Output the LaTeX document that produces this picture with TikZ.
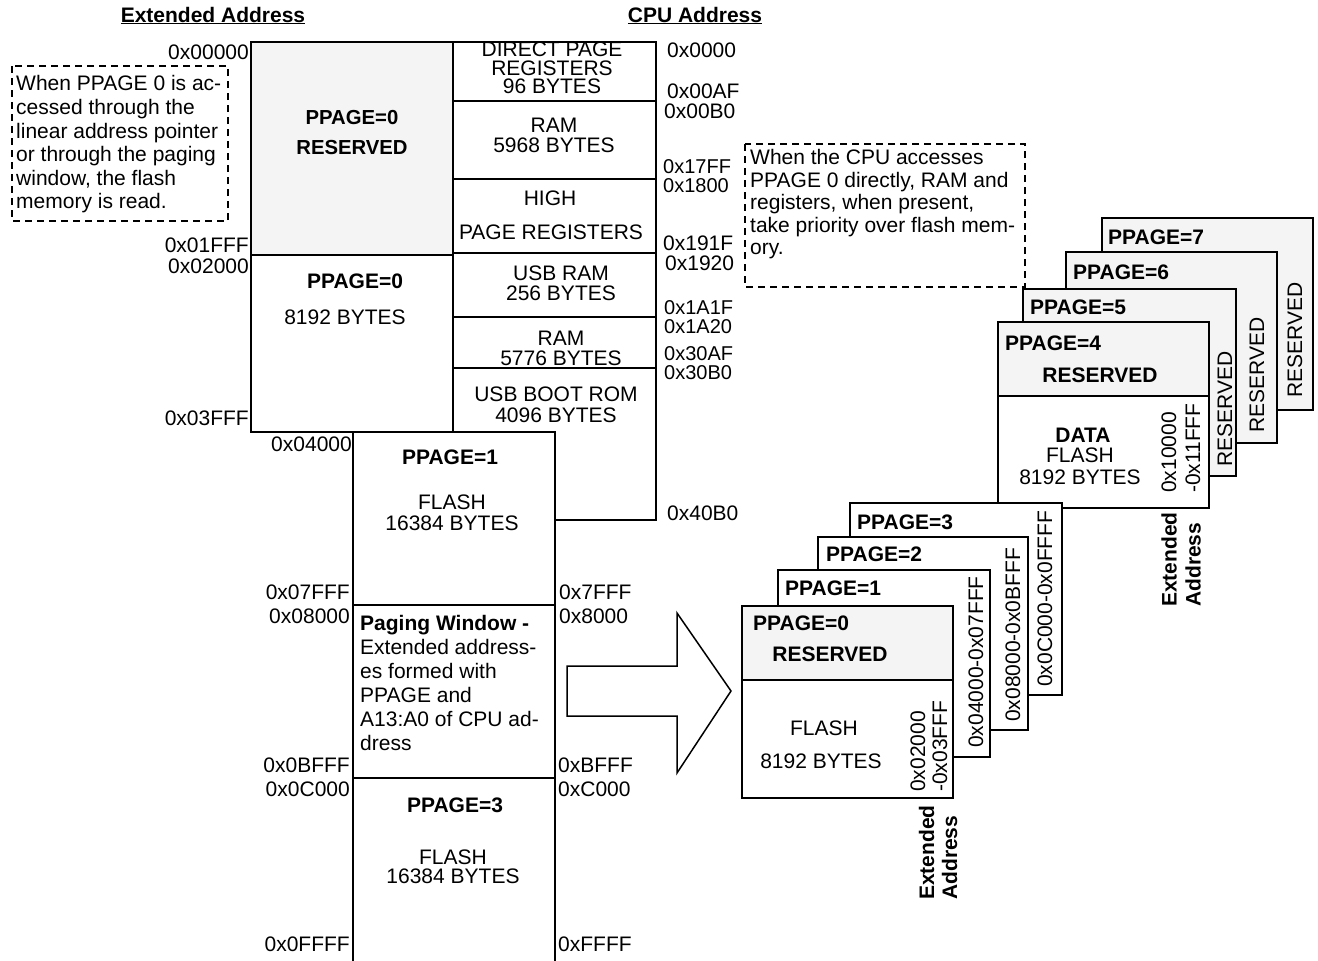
\documentclass[tikz,border=0pt]{standalone}
\usepackage{fontspec}
\setmainfont{Liberation Sans}
\definecolor{lgray}{RGB}{244,244,244}
\begin{document}
\begin{tikzpicture}[x=1pt,y=-1pt,
  blk/.style={draw, line width=2pt, line join=miter},
  txt/.style={inner sep=0pt, font=\fontsize{21}{24}\selectfont},
  ctxt/.style={inner sep=0pt, font=\fontsize{20}{24}\selectfont},
  btxt/.style={inner sep=0pt, font=\fontsize{21}{24}\selectfont\bfseries},
  sbtxt/.style={inner sep=0pt, font=\fontsize{20.3}{24}\selectfont\bfseries},
  note/.style={draw, dash pattern=on 7pt off 5pt, line width=1.3pt},
  arrowshape/.style={draw, line width=1.5pt, fill=white, line join=miter}]
\useasboundingbox (0,0) rectangle (1318,961);

% headers
\node[btxt, anchor=base] (hExt) at (213,22) {\underline{Extended Address}};
\node[btxt, anchor=base] (hCpu) at (695,22) {\underline{CPU Address}};

% left column
\draw[blk, fill=lgray] (251,42) rectangle (453,255);
\draw[blk, fill=white] (251,255) rectangle (453,432);
% CPU column
\draw[blk, fill=white] (453,42) rectangle (656,520);
\draw[blk] (453,101) -- (656,101);
\draw[blk] (453,179) -- (656,179);
\draw[blk] (453,253) -- (656,253);
\draw[blk] (453,317) -- (656,317);
\draw[blk] (453,368) -- (656,368);
% lower column
\draw[blk, fill=white] (353,432) rectangle (555,605);
\draw[blk, fill=white] (353,605) rectangle (555,778);
\draw[blk] (353,961) -- (353,778) -- (555,778) -- (555,961);

% texts in left column
\node[sbtxt] (p0a) at (352,117.5) {PPAGE=0};
\node[sbtxt] (p0b) at (352,147.5) {RESERVED};
\node[btxt] (p0c) at (355,281) {PPAGE=0};
\node[txt] (p0d) at (345,317) {8192 BYTES};
\node[btxt] (p1a) at (450,457) {PPAGE=1};
\node[txt, align=center, font=\fontsize{21}{21.5}\selectfont] (p1b) at (452,513) {FLASH\\16384 BYTES};
\node[txt, anchor=north west, align=left, font=\fontsize{21}{24}\selectfont] (pw) at (360,615.5)
  {\textbf{Paging Window -}\\Extended address-\\es formed with\\PPAGE and\\A13:A0 of CPU ad-\\dress};
\node[btxt] (p3a) at (455,805) {PPAGE=3};
\node[txt, align=center, font=\fontsize{21}{19}\selectfont] (p3b) at (453,867) {FLASH\\16384 BYTES};

% texts in CPU column
\node[txt, align=center, font=\fontsize{21}{18.5}\selectfont] (t1) at (552,68) {DIRECT PAGE\\REGISTERS\\96 BYTES};
\node[txt, align=center, font=\fontsize{21}{20}\selectfont] (t2) at (554,135) {RAM\\5968 BYTES};
\node[txt] (t3a) at (550,198) {HIGH};
\node[txt] (t3b) at (551,232) {PAGE REGISTERS};
\node[txt, align=center, font=\fontsize{21}{20}\selectfont] (t4) at (561,283) {USB RAM\\256 BYTES};
\node[txt, align=center, font=\fontsize{21}{20}\selectfont] (t5) at (561,348) {RAM\\5776 BYTES};
\node[txt, align=center, font=\fontsize{21}{21}\selectfont] (t6) at (556,405) {USB BOOT ROM\\4096 BYTES};

% extended address labels
\node[txt, anchor=east] (a00000) at (249,52) {0x00000};
\node[txt, anchor=east] (a01FFF) at (249,245) {0x01FFF};
\node[txt, anchor=east] (a02000) at (249,266) {0x02000};
\node[txt, anchor=east] (a03FFF) at (249,418) {0x03FFF};
\node[txt, anchor=east] (a04000) at (352,444) {0x04000};
\node[txt, anchor=east] (a07FFF) at (350,592) {0x07FFF};
\node[txt, anchor=east] (a08000) at (350,616) {0x08000};
\node[txt, anchor=east] (a0BFFF) at (350,765) {0x0BFFF};
\node[txt, anchor=east] (a0C000) at (350,789) {0x0C000};
\node[txt, anchor=east] (a0FFFF) at (350,944) {0x0FFFF};

% CPU address labels
\node[txt, anchor=west] (c0000) at (667,50) {0x0000};
\node[txt, anchor=west] (c00AF) at (667,91) {0x00AF};
\node[txt, anchor=west] (c00B0) at (664,111) {0x00B0};
\node[ctxt, anchor=west] (c17FF) at (663,167) {0x17FF};
\node[ctxt, anchor=west] (c1800) at (663,186) {0x1800};
\node[txt, anchor=west] (c191F) at (663,243) {0x191F};
\node[txt, anchor=west] (c1920) at (665,263) {0x1920};
\node[ctxt, anchor=west] (c1A1F) at (664,308) {0x1A1F};
\node[ctxt, anchor=west] (c1A20) at (664,327) {0x1A20};
\node[ctxt, anchor=west] (c30AF) at (664,354) {0x30AF};
\node[ctxt, anchor=west] (c30B0) at (664,373) {0x30B0};
\node[txt, anchor=west] (c40B0) at (667,513) {0x40B0};
\node[txt, anchor=west] (c7FFF) at (559,592) {0x7FFF};
\node[txt, anchor=west] (c8000) at (559,616) {0x8000};
\node[txt, anchor=west] (cBFFF) at (558,765) {0xBFFF};
\node[txt, anchor=west] (cC000) at (558,789) {0xC000};
\node[txt, anchor=west] (cFFFF) at (558,944) {0xFFFF};

% notes
\draw[note] (12,66) rectangle (228,221);
\node[txt, anchor=north west, align=left, font=\fontsize{21}{23.6}\selectfont] (n1) at (16,75.5)
  {When PPAGE 0 is ac-\\cessed through the\\linear address pointer\\or through the paging\\window, the flash\\memory is read.};
\draw[note] (745,144) rectangle (1025,287);
\node[txt, anchor=north west, align=left, font=\fontsize{21}{22.5}\selectfont] (n2) at (750,149.5)
  {When the CPU accesses\\PPAGE 0 directly, RAM and\\registers, when present,\\take priority over flash mem-\\ory.};

% big arrow
\draw[arrowshape] (567,666) -- (677,666) -- (677,613) -- (731,691) -- (677,773) -- (677,716) -- (567,716) -- cycle;

% upper stack PPAGE 7..4
\draw[blk, fill=lgray] (1102,218) rectangle (1313,410);
\node[btxt, anchor=west] (s7) at (1108,237) {PPAGE=7};
\node[txt, rotate=90, anchor=west] (r7) at (1295,398) {RESERVED};
\draw[blk, fill=lgray] (1066,252) rectangle (1277,443);
\node[btxt, anchor=west] (s6) at (1073,272) {PPAGE=6};
\node[txt, rotate=90, anchor=west] (r6) at (1257,433) {RESERVED};
\draw[blk, fill=lgray] (1023,289) rectangle (1236,476);
\node[btxt, anchor=west] (s5) at (1030,307) {PPAGE=5};
\node[txt, rotate=90, anchor=west] (r5) at (1225,467) {RESERVED};
\draw[blk, fill=white] (998,322) rectangle (1209,508);
\draw[blk, fill=lgray] (998,322) rectangle (1209,396);
\node[btxt, anchor=west] (s4) at (1005,343) {PPAGE=4};
\node[btxt] (s4r) at (1100,375) {RESERVED};
\node[btxt] (s4d) at (1083,435) {DATA};
\node[txt] (s4f) at (1080,455) {FLASH};
\node[txt] (s4b) at (1080,477) {8192 BYTES};
\node[txt, rotate=90, anchor=west, align=left, font=\fontsize{21}{24}\selectfont] (s4x) at (1181,493) {0x10000\\-0x11FFF};
\node[btxt, rotate=90, anchor=west, align=left, font=\fontsize{21}{24}\selectfont\bfseries] (s4e) at (1181,607) {Extended\\Address};

% lower stack PPAGE 3..0
\draw[blk, fill=white] (850,503) rectangle (1062,695);
\node[btxt, anchor=west] (s3) at (857,522) {PPAGE=3};
\node[txt, rotate=90, anchor=west] (x3) at (1045,687) {0x0C000-0x0FFFF};
\draw[blk, fill=white] (818,537) rectangle (1028,730);
\node[btxt, anchor=west] (s2) at (826,554) {PPAGE=2};
\node[txt, rotate=90, anchor=west] (x2) at (1013,722) {0x08000-0x0BFFF};
\draw[blk, fill=white] (778,570) rectangle (990,757);
\node[btxt, anchor=west] (s1) at (785,588) {PPAGE=1};
\node[txt, rotate=90, anchor=west] (x1) at (976,748) {0x04000-0x07FFF};
\draw[blk, fill=white] (742,606) rectangle (953,798);
\draw[blk, fill=lgray] (742,606) rectangle (953,680);
\node[btxt, anchor=west] (s0) at (753,623) {PPAGE=0};
\node[btxt] (s0r) at (830,654) {RESERVED};
\node[txt] (s0f) at (824,728) {FLASH};
\node[txt] (s0b) at (821,761) {8192 BYTES};
\node[txt, rotate=90, anchor=west, align=left, font=\fontsize{21}{22}\selectfont] (x0) at (929,792) {0x02000\\-0x03FFF};
\node[btxt, rotate=90, anchor=west, align=left, font=\fontsize{21}{23}\selectfont\bfseries] (s0e) at (938,900) {Extended\\Address};
\end{tikzpicture}
\end{document}
